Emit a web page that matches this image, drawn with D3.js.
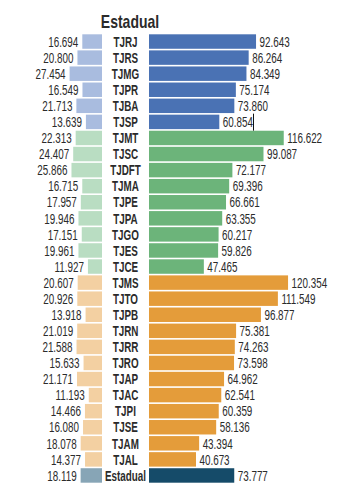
<!DOCTYPE html>
<html>
<head>
<meta charset="utf-8">
<script src="https://cdn.jsdelivr.net/npm/d3@7"></script>
<style>
  body { margin: 0; background: #fff; }
  text { font-family: "Liberation Sans", Arial, sans-serif; fill: #2b2b2b; }
</style>
</head>
<body>
<div id="chart"></div>
<script>
// ---------------------------------------------------------------- data
var courts = ["TJRJ", "TJRS", "TJMG", "TJPR", "TJBA", "TJSP",
  "TJMT", "TJSC", "TJDFT", "TJMA", "TJPE", "TJPA", "TJGO", "TJES", "TJCE",
  "TJMS", "TJTO", "TJPB", "TJRN", "TJRR", "TJRO", "TJAP", "TJAC", "TJPI", "TJSE", "TJAM", "TJAL",
  "Estadual"]
var porte = ["grande", "grande", "grande", "grande", "grande", "grande",
  "medio", "medio", "medio", "medio", "medio", "medio", "medio", "medio", "medio",
  "pequeno", "pequeno", "pequeno", "pequeno", "pequeno", "pequeno", "pequeno", "pequeno", "pequeno", "pequeno", "pequeno", "pequeno",
  "total"]
var leftValues = [16694, 20800, 27454, 16549, 21713, 13639,
  22313, 24407, 25866, 16715, 17957, 19946, 17151, 19961, 11927,
  20607, 20926, 13918, 21019, 21588, 15633, 21171, 11193, 14466, 16080, 18078, 14377,
  18119]
var rightValues = [92643, 86264, 84349, 75174, 73860, 60854,
  116622, 99087, 72177, 69396, 66661, 63355, 60217, 59826, 47465,
  120354, 111549, 96877, 75381, 74263, 73598, 64962, 62541, 60359, 58136, 43394, 40673,
  73777]
var title = "Estadual"

// ---------------------------------------------------------------- setup
var width = 354, height = 503
var colors = {
  grande:  { light: "#a9bcdf", dark: "#4a72b4" },
  medio:   { light: "#b9ddc2", dark: "#6cb47a" },
  pequeno: { light: "#f3d0a2", dark: "#e49c3a" },
  total:   { light: "#87a5b6", dark: "#154b69" }
}
var rows = courts.map(function (c, i) {
  return { name: c, porte: porte[i], left: leftValues[i], right: rightValues[i] }
})

var fmt = d3.formatLocale({ decimal: ",", thousands: ".", grouping: [3], currency: ["R$", ""] }).format(",d")

var y = d3.scaleBand()
  .domain(courts)
  .range([33.5, 483.5])
  .paddingInner(0.1)
  .paddingOuter(0.05)

var xRight = d3.scaleLinear().domain([0, 130000]).range([149, 149 + 150.2])
var xLeft = d3.scaleLinear().domain([0, 30000]).range([102, 102 - 35.4])

var squeeze = 0.68   // the source uses a condensed face

var svg = d3.select("#chart").append("svg")
  .attr("width", width)
  .attr("height", height)

svg.append("text")
  .attr("transform", "translate(130,27.5) scale(0.8,1)")
  .attr("text-anchor", "middle")
  .style("font-size", "17.5px")
  .style("font-weight", "bold")
  .text(title)

var row = svg.selectAll(".row").data(rows).enter().append("g")
  .attr("class", "row")

// left bars
row.append("rect")
  .attr("x", function (d) { return xLeft(d.left) })
  .attr("y", function (d) { return y(d.name) })
  .attr("width", function (d) { return xLeft(0) - xLeft(d.left) })
  .attr("height", y.bandwidth())
  .attr("fill", function (d) { return colors[d.porte].light })

// right bars
row.append("rect")
  .attr("x", xRight(0))
  .attr("y", function (d) { return y(d.name) })
  .attr("width", function (d) { return xRight(d.right) - xRight(0) })
  .attr("height", y.bandwidth())
  .attr("fill", function (d) { return colors[d.porte].dark })

function mid(d) { return y(d.name) + y.bandwidth() / 2 + 5.2 }

// court names
row.append("text")
  .attr("transform", function (d) { return "translate(125.5," + mid(d) + ") scale(" + squeeze + ",1)" })
  .attr("text-anchor", "middle")
  .style("font-size", "14.5px")
  .style("font-weight", "bold")
  .text(function (d) { return d.name })

// left values
row.append("text")
  .attr("transform", function (d) { return "translate(" + (xLeft(d.left) - 4) + "," + mid(d) + ") scale(" + squeeze + ",1)" })
  .attr("text-anchor", "end")
  .style("font-size", "14.5px")
  .text(function (d) { return fmt(d.left) })

// right values
row.append("text")
  .attr("transform", function (d) { return "translate(" + (xRight(d.right) + 3.5) + "," + mid(d) + ") scale(" + squeeze + ",1)" })
  .attr("text-anchor", "start")
  .style("font-size", "14.5px")
  .text(function (d) { return fmt(d.right) })

// thin marker line after TJSP value, as in the source image
var sp = rows[5]
svg.append("line")
  .attr("x1", 253.5).attr("x2", 253.5)
  .attr("y1", y(sp.name) - 1).attr("y2", y(sp.name) + y.bandwidth() + 1.5)
  .attr("stroke", "#111")
  .attr("stroke-width", 1)
</script>
</body>
</html>
